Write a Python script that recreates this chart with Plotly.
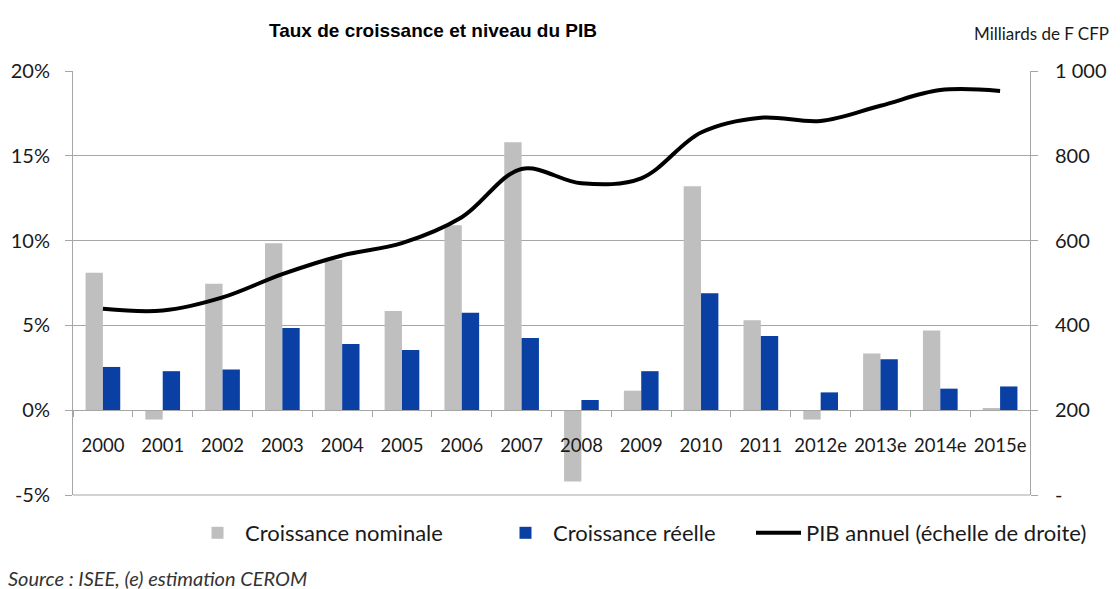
import plotly.graph_objects as go

years = ["2000", "2001", "2002", "2003", "2004", "2005", "2006", "2007", "2008",
         "2009", "2010", "2011", "2012e", "2013e", "2014e", "2015e"]
nominal = [8.1, -0.55, 7.45, 9.85, 8.85, 5.85, 10.9, 15.8, -4.2,
           1.15, 13.2, 5.3, -0.55, 3.35, 4.7, 0.13]
reelle = [2.55, 2.3, 2.4, 4.85, 3.9, 3.55, 5.75, 4.25, 0.6,
          2.3, 6.9, 4.37, 1.05, 3.0, 1.27, 1.4]
pib = [439, 435, 466, 521, 565, 594, 655, 769, 735,
       747, 855, 890, 882, 918, 955, 953]

left_ticks = [-5, 0, 5, 10, 15, 20]
left_labels = ["-5%", "0%", "5%", "10%", "15%", "20%"]
right_ticks = [0, 200, 400, 600, 800, 1000]
right_labels = ["-", "200", "400", "600", "800", "1 000"]

FONT = "Lato"
TXT = "#1a1a1a"
GRID = "#a6a6a6"

# the page body has an 8px margin, so the figure is offset by 8px in the window
OFF = 8
W, H = 1120 - OFF, 589 - OFF
L, T = 73 - OFF, 71 - OFF
R, B = 90, 94
PW, PH = W - L - R, H - T - B

fig = go.Figure()
fig.add_trace(go.Bar(x=years, y=nominal, name="Croissance nominale",
                     marker=dict(color="#bfbfbf", line=dict(width=0)), legend="legend"))
fig.add_trace(go.Bar(x=years, y=reelle, name="Croissance réelle",
                     marker=dict(color="#0a3fa3", line=dict(width=0)), legend="legend2"))
fig.add_trace(go.Scatter(x=years, y=pib, name="PIB annuel (échelle de droite)",
                         mode="lines", line=dict(color="black", width=4, shape="spline"),
                         yaxis="y2", legend="legend3"))


def leg(x_px):
    return dict(orientation="h", x=(x_px - 73) / PW, xanchor="left",
                y=(495 - 533) / PH, yanchor="middle",
                font=dict(size=22, color=TXT), itemwidth=45,
                bgcolor="rgba(0,0,0,0)")


fig.update_layout(
    width=W, height=H,
    margin=dict(l=L, r=R, t=T, b=B, autoexpand=False),
    paper_bgcolor="white", plot_bgcolor="white",
    font=dict(family=FONT, size=18, color=TXT),
    barmode="group", bargap=0.42, bargroupgap=0,
    title=dict(text="<b>Taux de croissance et niveau du PIB</b>",
               font=dict(family="Liberation Sans", size=19, color="black"),
               x=(433 - OFF) / W, xanchor="center", xref="container",
               y=1 - (30 - OFF) / H, yanchor="middle", yref="container"),
    xaxis=dict(type="category", anchor="free", position=0.2, automargin=False,
               showline=True, linecolor=GRID, linewidth=1, tickangle=0,
               ticks="outside", tickson="boundaries", ticklen=6, tickcolor=GRID,
               showgrid=False, tickfont=dict(size=18.5, color=TXT),
               ticklabelstandoff=19),
    yaxis=dict(range=[-5, 20], tickvals=left_ticks, ticktext=left_labels, automargin=False,
               showline=True, linecolor=GRID, linewidth=1,
               ticks="outside", ticklen=7, tickcolor=GRID,
               showgrid=True, gridcolor=GRID, gridwidth=1, zeroline=False,
               tickfont=dict(size=20, color=TXT), ticklabelstandoff=11),
    yaxis2=dict(range=[0, 1000], overlaying="y", side="right", automargin=False,
                tickvals=right_ticks, ticktext=right_labels,
                showline=True, linecolor=GRID, linewidth=1,
                ticks="outside", ticklen=7, tickcolor=GRID,
                showgrid=False, zeroline=False,
                tickfont=dict(size=20, color=TXT), ticklabelstandoff=13),
    legend=leg(190),
    legend2=leg(498),
    legend3=leg(751),
    showlegend=True,
)

fig.add_shape(type="line", xref="paper", yref="paper", x0=0, x1=1, y0=0, y1=0,
              line=dict(color=GRID, width=1))

fig.add_annotation(text="Milliards de F CFP", xref="paper", yref="paper",
                   x=(1041 - 73) / PW, y=1 + (71 - 33) / PH, xanchor="center", yanchor="middle",
                   showarrow=False, font=dict(size=17, color=TXT))
fig.add_annotation(text="<i>Source : ISEE, (e) estimation CEROM</i>", xref="paper", yref="paper",
                   x=(6 - 73) / PW, y=(495 - 578) / PH, xanchor="left", yanchor="middle",
                   showarrow=False, font=dict(size=20, color="#333333"))

fig.write_html("out.html")
